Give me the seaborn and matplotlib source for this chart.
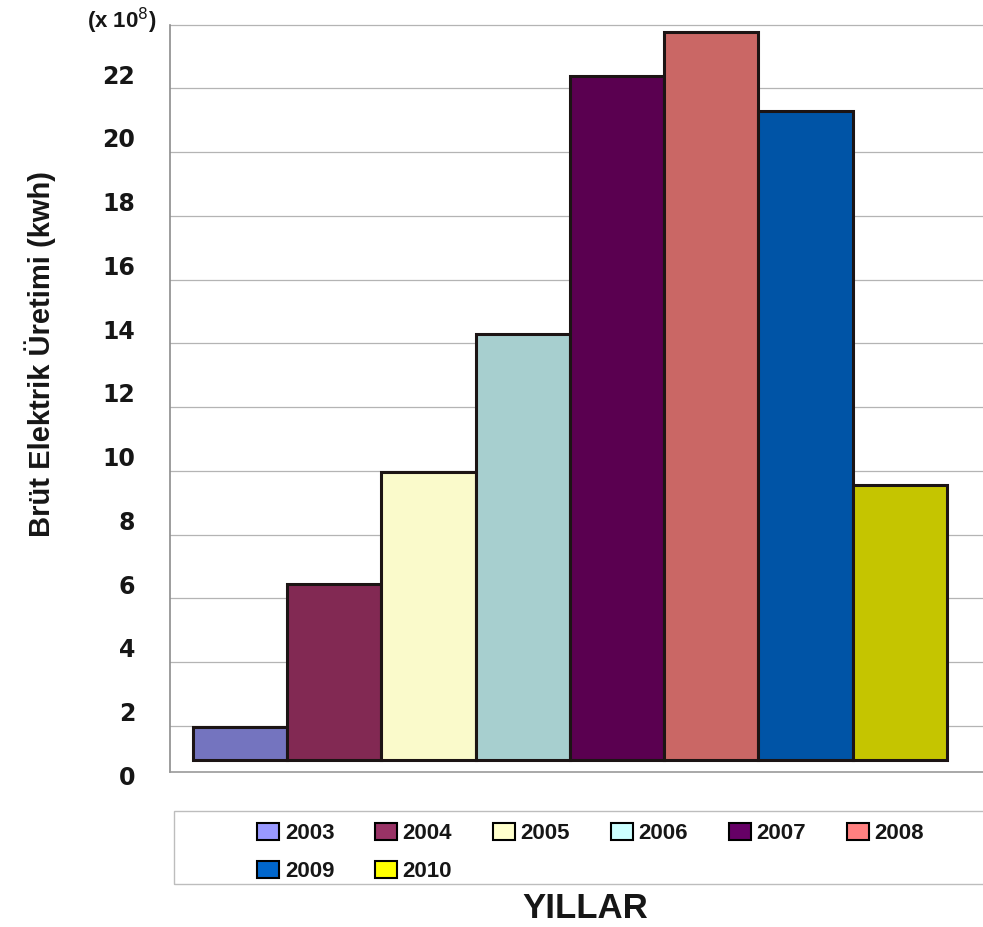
import numpy as np
import matplotlib
matplotlib.use("Agg")
import matplotlib.pyplot as plt
import seaborn as sns
from matplotlib.patches import Patch, Rectangle

# %% Data (x 10^8 kwh)
years = ["2003", "2004", "2005", "2006", "2007", "2008", "2009", "2010"]
production = [1.97, 6.45, 9.98, 14.30, 22.39, 23.77, 21.30, 9.56]
base = 0.93  # bars in the original start a bit above the axis line

bar_colors = ["#7474bf", "#822953", "#fafacb", "#a7cfcf",
              "#5a0050", "#ca6765", "#0054a6", "#c5c500"]
legend_colors = ["#9999ff", "#993366", "#ffffcc", "#ccffff",
                 "#660066", "#ff8080", "#0066cc", "#ffff00"]

tick_values = np.arange(0, 23, 2)
grid_values = np.arange(2, 25, 2)

# %% Plot
sns.set_style("white")
plt.rcParams["font.family"] = ["Liberation Sans", "DejaVu Sans"]
plt.rcParams["text.color"] = "#161616"
plt.rcParams["ytick.color"] = "#161616"

fig = plt.figure(figsize=(9.83, 9.27), dpi=100)
# pixel mapping: value v -> 789.8 - 31.885 * v
ax = fig.add_axes([170 / 983, (927 - 780.2) / 927, 1 - 170 / 983, (780.2 - 23.0) / 927])

heights = [v - base for v in production]
sns.barplot(x=years, y=heights, hue=years, palette=bar_colors, saturation=1,
            width=1, bottom=base, edgecolor="#1c1414", linewidth=2.2,
            legend=False, ax=ax)

ax.set_xlim(-0.744, 7.882)
ax.set_ylim(0.3, 24.05)

# gridlines sit on even values, the labels in the original float a bit above them
ax.set_yticks(grid_values, minor=True)
ax.set_yticks(tick_values + 0.45)
ax.set_yticklabels([str(v) for v in tick_values],
                   fontfamily="DejaVu Sans", fontweight="bold", fontsize=17)
ax.tick_params(axis="y", which="both", length=0, pad=25, labelcolor="#161616")
ax.grid(False)
ax.grid(True, which="minor", axis="y", color="#b4b4b4", linewidth=0.9)
ax.set_axisbelow(True)
ax.set_xticks([])
ax.set_xlabel("")
ax.set_ylabel("")

for side in ["top", "right"]:
    ax.spines[side].set_visible(False)
ax.spines["left"].set_color("#8c8c8c")
ax.spines["left"].set_linewidth(1.2)
ax.spines["left"].set_bounds(0.56, 24.0)
ax.spines["bottom"].set_color("#9a9a9a")
ax.spines["bottom"].set_linewidth(1.2)
ax.spines["bottom"].set_position(("data", 0.56))

# Labels
fig.text(157 / 983, 1 - 21 / 927, r"(x 10$^{8}$)", ha="right", va="center",
         fontsize=16, fontweight="bold")
fig.text(40 / 983, 1 - 354 / 927, "Brüt Elektrik Üretimi (kwh)", rotation=90,
         ha="center", va="center", fontsize=21, fontweight="bold")
fig.text(585 / 983, 1 - 908 / 927, "YILLAR", ha="center", va="center",
         fontsize=25, fontweight="bold")

# Legend with its own wide frame, filled row by row like the original
fig.add_artist(Rectangle((174 / 983, (927 - 884) / 927), 1.0, (884 - 810.7) / 927,
                         transform=fig.transFigure, fill=False,
                         edgecolor="#bdbdbd", linewidth=1))
order = [0, 6, 1, 7, 2, 3, 4, 5]
handles = [Patch(facecolor=legend_colors[i], edgecolor="black", linewidth=1.5) for i in order]
labels = [years[i] for i in order]
fig.legend(handles, labels, loc="upper left",
           bbox_to_anchor=(257 / 983, 1 - 823 / 927), ncol=6, frameon=False,
           borderpad=0, borderaxespad=0, handlelength=0.98, handleheight=0.8,
           handletextpad=0.27, columnspacing=1.83, labelspacing=0.75,
           prop={"family": "Liberation Sans", "weight": "bold", "size": 16})

plt.savefig("out.png", dpi=100)
